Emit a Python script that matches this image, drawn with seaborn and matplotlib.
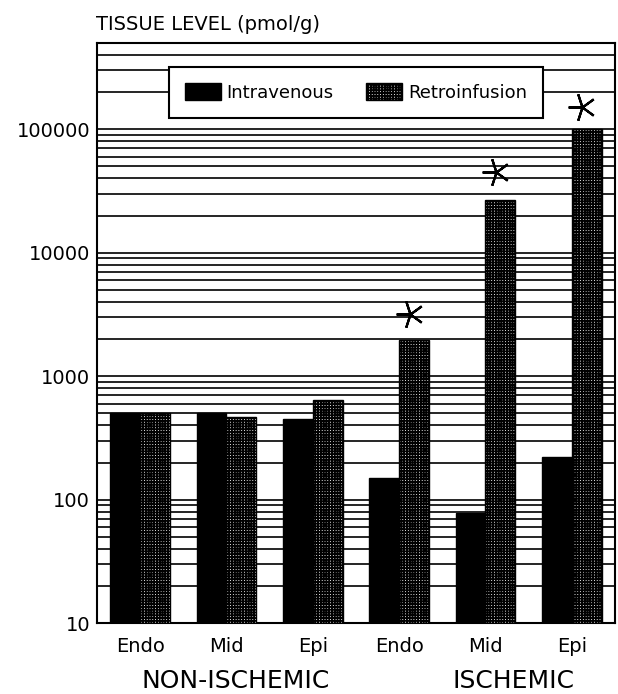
import pandas as pd
import numpy as np
import matplotlib
matplotlib.use("Agg")
import matplotlib.pyplot as plt
import matplotlib.ticker as mticker
import seaborn as sns

# values (pmol/g)
sites = ["Endo", "Mid", "Epi", "Endo", "Mid", "Epi"]
site_keys = ["NI_Endo", "NI_Mid", "NI_Epi", "I_Endo", "I_Mid", "I_Epi"]
intravenous = [505, 500, 452, 151, 78, 222]
retroinfusion = [500, 472, 645, 1980, 27000, 100000]
retro_err = [None, None, None, 3200, 45500, 152000]
groups = ["NON-ISCHEMIC", "ISCHEMIC"]
ytick_vals = [10, 100, 1000, 10000, 100000]

df = pd.DataFrame({
    "site": site_keys * 2,
    "level": intravenous + retroinfusion,
    "route": ["Intravenous"] * 6 + ["Retroinfusion"] * 6,
})

sns.set_style("white")
plt.rcParams["font.family"] = ["DejaVu Sans"]
plt.rcParams["text.color"] = "black"
plt.rcParams["xtick.color"] = "black"
plt.rcParams["ytick.color"] = "black"
plt.rcParams["hatch.linewidth"] = 1.3

fig = plt.figure(figsize=(6.18, 6.94), dpi=100)
ax = fig.add_axes([0.157, 0.102, 0.838, 0.836])

sns.barplot(data=df, x="site", y="level", hue="route", order=site_keys,
            palette={"Intravenous": "black", "Retroinfusion": "white"},
            width=0.69, gap=0, saturation=1, edgecolor="black", linewidth=1,
            legend=False, ax=ax, zorder=3)
ax.set_yscale("log")

for p in ax.containers[1]:
    p.set_hatch("++++++")

# error marks above retroinfusion bars
for p, e in zip(ax.containers[1], retro_err):
    if e is not None:
        ax.plot(p.get_x() + p.get_width() * 0.35, e, marker=(5, 2, 90),
                markersize=20, markeredgewidth=1.6, color="black", zorder=5)

ax.set_ylim(10, 5e5)
ax.set_xlim(-0.5, 5.5)
ax.yaxis.set_major_locator(mticker.FixedLocator(ytick_vals))
ax.yaxis.set_major_formatter(mticker.FixedFormatter([str(v) for v in ytick_vals]))
ax.yaxis.set_minor_locator(mticker.LogLocator(base=10, subs=np.arange(2, 10)))
ax.yaxis.set_minor_formatter(mticker.NullFormatter())
ax.grid(True, axis="y", which="both", color="black", linewidth=1.2)
ax.set_axisbelow(True)

ax.set_xticks(range(6))
ax.set_xticklabels(sites, fontsize=14)
ax.tick_params(axis="x", length=0, pad=10)
ax.tick_params(axis="y", which="both", length=0, pad=5, labelsize=14)
ax.set_xlabel("")
ax.set_ylabel("")
for s in ax.spines.values():
    s.set_color("black")
    s.set_linewidth(1.5)

trans = matplotlib.transforms.blended_transform_factory(ax.transData, ax.transAxes)
ax.text(1.1, -0.1, groups[0], transform=trans, ha="center", va="center", fontsize=18)
ax.text(4.33, -0.1, groups[1], transform=trans, ha="center", va="center", fontsize=18)

fig.text(0.155, 0.957, "TISSUE LEVEL (pmol/g)", fontsize=14, ha="left", va="baseline")

leg = ax.legend(ax.containers, ["Intravenous", "Retroinfusion"], ncol=2,
                loc="center", bbox_to_anchor=(0.5, 0.915), fontsize=13,
                frameon=True, fancybox=False, framealpha=1, edgecolor="black",
                handlelength=2.0, handleheight=1.1, columnspacing=1.8,
                handletextpad=0.3, borderpad=0.9)
leg.get_frame().set_linewidth(1.5)
leg.set_zorder(6)

fig.savefig("out.png", dpi=100)
